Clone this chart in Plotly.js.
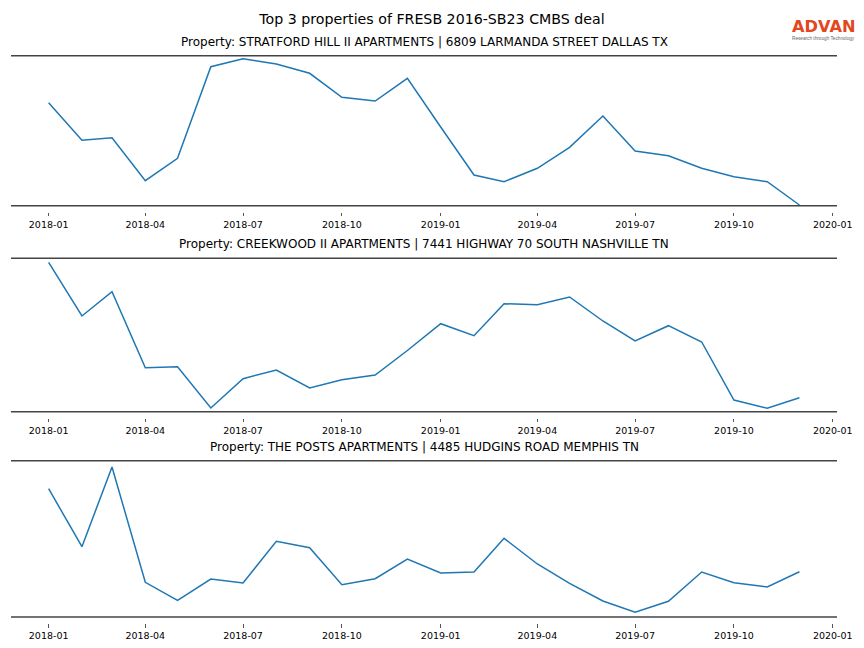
<!DOCTYPE html>
<html><head><meta charset="utf-8">
<script src="https://cdn.plot.ly/plotly-3.0.1.min.js"></script>
<style>html,body{margin:0;padding:0;background:#fff}</style>
</head><body><div id="chart" style="width:864px;height:648px"></div>
<script>
const months = ["2018-01-01","2018-02-01","2018-03-01","2018-04-01","2018-05-01","2018-06-01",
  "2018-07-01","2018-08-01","2018-09-01","2018-10-01","2018-11-01","2018-12-01",
  "2019-01-01","2019-02-01","2019-03-01","2019-04-01","2019-05-01","2019-06-01",
  "2019-07-01","2019-08-01","2019-09-01","2019-10-01","2019-11-01","2019-12-01"];
const mainTitle = "Top 3 properties of FRESB 2016-SB23 CMBS deal";
const panelTitles = [
  "Property: STRATFORD HILL II APARTMENTS | 6809 LARMANDA STREET DALLAS TX",
  "Property: CREEKWOOD II APARTMENTS | 7441 HIGHWAY 70 SOUTH NASHVILLE TN",
  "Property: THE POSTS APARTMENTS | 4485 HUDGINS ROAD MEMPHIS TN"];
const stratford = [103.0, 65.4, 68.0, 25.0, 47.4, 139.0, 147.0, 141.7, 132.4, 108.4, 104.7, 127.4,
  78.7, 30.7, 24.0, 37.4, 58.4, 89.7, 54.7, 50.0, 37.4, 29.0, 24.0, 0.7];
const creekwood = [149.4, 95.7, 120.0, 44.0, 45.0, 3.7, 33.0, 41.7, 23.7, 32.0, 36.7, 61.2,
  88.0, 76.0, 108.0, 107.0, 114.7, 90.7, 70.7, 86.0, 69.7, 11.7, 3.4, 14.0];
const posts = [128.3, 70.3, 150.0, 34.7, 16.7, 38.0, 34.0, 75.7, 69.3, 32.3, 38.3, 58.0,
  44.0, 45.0, 78.7, 53.0, 33.7, 16.0, 4.7, 15.7, 45.0, 34.3, 30.0, 45.3];
const series = [stratford, creekwood, posts];
const yTops = [150, 153.4, 156.3];
const logoText = "ADVAN";
const logoTag = "Research through Technology";

const W = 864, H = 648, L = 11, R = 27;
const pxX = x => (x - L) / (W - L - R);
const pxY = y => 1 - y / H;
const domains = [[pxY(205.7), pxY(55.7)], [pxY(411.7), pxY(258.3)], [pxY(617), pxY(460.7)]];
const font = "DejaVu Sans, Verdana, sans-serif";

const traces = series.map((s, i) => ({
  x: months, y: s, type: 'scatter', mode: 'lines',
  xaxis: i === 0 ? 'x' : 'x' + (i + 1), yaxis: i === 0 ? 'y' : 'y' + (i + 1),
  line: {color: '#1f77b4', width: 1.5}, hoverinfo: 'x+y', showlegend: false
}));

const layout = {
  width: W, height: H,
  margin: {l: L, r: R, t: 0, b: 0},
  paper_bgcolor: '#fff', plot_bgcolor: '#fff',
  font: {family: font, color: '#000'},
  title: {text: mainTitle, x: 0.5, xref: 'container', y: 1 - 19 / H, yref: 'container',
    yanchor: 'middle', xanchor: 'center', font: {size: 14.2, family: font, color: '#000'}},
  shapes: [], annotations: []
};

series.forEach((s, i) => {
  const sx = i === 0 ? '' : String(i + 1);
  layout['xaxis' + sx] = {
    type: 'date', range: ['2017-11-26 23:00', '2020-01-04 23:00'],
    anchor: 'free', position: domains[i][0] - 6 / H, domain: [0, 1],
    tick0: '2018-01-01', dtick: 'M3', tickformat: '%Y-%m',
    ticks: 'outside', ticklen: 3.5, tickwidth: 1, tickcolor: '#555',
    showline: false, showgrid: false, zeroline: false, automargin: false,
    tickfont: {size: 9.5, family: font, color: '#000'}
  };
  layout['yaxis' + sx] = {
    domain: domains[i], range: [0, yTops[i]], anchor: i === 0 ? 'x' : 'x' + (i + 1),
    showticklabels: false, showgrid: false, zeroline: false, showline: false, ticks: '',
    automargin: false, fixedrange: true
  };
  const xr = (i === 0 ? 'x' : 'x' + (i + 1)) + ' domain';
  const yr = (i === 0 ? 'y' : 'y' + (i + 1)) + ' domain';
  [0, 1].forEach(v => layout.shapes.push({type: 'line', xref: xr, yref: yr,
    x0: 0, x1: 1, y0: v, y1: v, line: {color: '#444', width: 1.6}}));
  layout.annotations.push({text: panelTitles[i], xref: xr, yref: yr, x: 0.5, y: 1,
    xanchor: 'center', yanchor: 'middle', yshift: 14, showarrow: false,
    font: {size: 12, family: font, color: '#000'}});
});

layout.annotations.push({text: '<b>' + logoText + '</b>', xref: 'paper', yref: 'paper',
  x: pxX(823.5), y: pxY(26.3), xanchor: 'center', yanchor: 'middle', showarrow: false, borderpad: 0,
  font: {size: 16.2, family: 'DejaVu Sans, sans-serif', color: '#e2471d'}});
layout.annotations.push({text: logoTag, xref: 'paper', yref: 'paper', x: pxX(823.5), y: pxY(38.4),
  xanchor: 'center', yanchor: 'middle', showarrow: false, borderpad: 0,
  font: {size: 4.7, family: 'Liberation Sans, Arial, sans-serif', color: '#666'}});

Plotly.newPlot('chart', traces, layout, {displayModeBar: false, staticPlot: true});
</script></body></html>
